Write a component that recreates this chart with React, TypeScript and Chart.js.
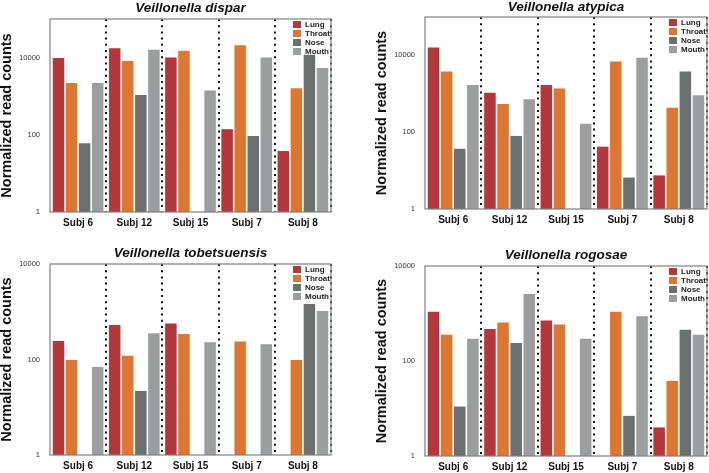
import React, { useEffect, useRef } from "react";
import { Chart, registerables } from "chart.js";

Chart.register(...registerables);

// ---------- data ----------
const categories = ["Subj 6", "Subj 12", "Subj 15", "Subj 7", "Subj 8"];
const seriesNames = ["Lung", "Throat", "Nose", "Mouth"];
const seriesColors = ["#B2383B", "#DC7630", "#6B706F", "#9B9D9E"];
const yTickValues = [1, 100, 10000];

const disparLung = [9800, 17500, 10000, 140, 38];
const disparThroat = [2200, 8200, 15000, 21000, 1600];
const disparNose = [60, 1070, null, 93, 11800];
const disparMouth = [2200, 16000, 1400, 10000, 5400];

const atypicaLung = [16000, 1070, 1700, 42, 7.5];
const atypicaThroat = [3800, 540, 1370, 6900, 430];
const atypicaNose = [37, 80, null, 6.6, 3800];
const atypicaMouth = [1700, 720, 165, 8700, 910];

const tobetsuensisLung = [245, 530, 570, null, null];
const tobetsuensisThroat = [98, 120, 340, 237, 98];
const tobetsuensisNose = [null, 22, null, null, 1450];
const tobetsuensisMouth = [70, 355, 230, 208, 1040];

const rogosaeLung = [1090, 470, 710, null, 4];
const rogosaeThroat = [355, 650, 590, 1090, 38];
const rogosaeNose = [11, 240, null, 7, 455];
const rogosaeMouth = [295, 2570, 295, 870, 357];

const yAxisTitle = "Normalized read counts";

// ---------- layout ----------
const W = 709;
const H = 473;
const FONT = '"Liberation Sans", Arial, Helvetica, sans-serif';

type PanelDef = {
  title: string;
  series: (number | null)[][];
  max: number;
  area: { l: number; t: number; r: number; b: number };
  titleY: number;
};

const panels: PanelDef[] = [
  {
    title: "Veillonella dispar",
    series: [disparLung, disparThroat, disparNose, disparMouth],
    max: 100000,
    area: { l: 50, t: 19, r: 331, b: 212 },
    titleY: 8,
  },
  {
    title: "Veillonella atypica",
    series: [atypicaLung, atypicaThroat, atypicaNose, atypicaMouth],
    max: 100000,
    area: { l: 425, t: 17, r: 707, b: 209 },
    titleY: 7,
  },
  {
    title: "Veillonella tobetsuensis",
    series: [tobetsuensisLung, tobetsuensisThroat, tobetsuensisNose, tobetsuensisMouth],
    max: 10000,
    area: { l: 50, t: 264, r: 331, b: 455 },
    titleY: 253,
  },
  {
    title: "Veillonella rogosae",
    series: [rogosaeLung, rogosaeThroat, rogosaeNose, rogosaeMouth],
    max: 10000,
    area: { l: 425, t: 266, r: 707, b: 456 },
    titleY: 255,
  },
];

const decorPlugin = {
  id: "decor",
  afterDraw(chart: any, _args: any, opts: any) {
    const { ctx, chartArea: a } = chart;
    ctx.save();
    // frame
    ctx.strokeStyle = "#7f7f7f";
    ctx.lineWidth = 1.2;
    ctx.strokeRect(a.left, a.top, a.right - a.left, a.bottom - a.top);
    // title
    ctx.fillStyle = "#111";
    ctx.textAlign = "center";
    ctx.textBaseline = "middle";
    ctx.font = `italic bold 13.5px ${FONT}`;
    ctx.fillText(opts.title, (a.left + a.right) / 2, opts.titleY);
    // legend
    const bx = a.right - 38;
    ctx.font = `bold 8px ${FONT}`;
    ctx.textAlign = "left";
    chart.data.datasets.forEach((ds: any, i: number) => {
      const cy = a.top + 5.5 + i * 9;
      ctx.fillStyle = ds.backgroundColor;
      ctx.fillRect(bx, cy - 3.5, 8, 7);
      ctx.fillStyle = "#222";
      ctx.fillText(ds.label, bx + 12, cy + 0.5);
    });
    ctx.restore();
  },
};

function Panel({ def }: { def: PanelDef }) {
  const ref = useRef<HTMLCanvasElement | null>(null);
  useEffect(() => {
    if (!ref.current) return;
    const { area } = def;
    const chart = new Chart(ref.current, {
      type: "bar",
      data: {
        labels: categories,
        datasets: def.series.map((vals, i) => ({
          label: seriesNames[i],
          data: vals,
          backgroundColor: seriesColors[i],
          borderWidth: 0,
          barPercentage: 0.88,
          categoryPercentage: 0.93,
        })),
      },
      options: {
        responsive: false,
        animation: false,
        events: [],
        layout: {
          padding: {
            left: area.l - 50,
            top: area.t,
            right: W - area.r,
            bottom: H - area.b - 22,
          },
        },
        plugins: {
          legend: { display: false },
          title: { display: false },
          tooltip: { enabled: false },
          decor: { title: def.title, titleY: def.titleY },
        } as any,
        scales: {
          x: {
            type: "category",
            offset: true,
            grid: {
              offset: true,
              drawOnChartArea: true,
              drawTicks: false,
              lineWidth: 2,
              color: (c: any) =>
                c.index === 0 || c.index >= categories.length ? "rgba(0,0,0,0)" : "#111",
            },
            border: { display: false, dash: [2, 4.2] },
            ticks: {
              font: { family: FONT, size: 10, weight: "bold" },
              color: "#111",
              padding: 5,
              maxRotation: 0,
            },
            afterFit: (s: any) => {
              s.height = 22;
            },
          },
          y: {
            type: "logarithmic",
            min: 1,
            max: def.max,
            grid: { display: false, drawTicks: false },
            border: { display: false },
            ticks: {
              autoSkip: false,
              font: { family: FONT, size: 7.5 },
              color: "#333",
              padding: 10,
              callback: (v: any) => String(v),
            },
            afterBuildTicks: (s: any) => {
              s.ticks = yTickValues.filter((v) => v <= def.max).map((v) => ({ value: v }));
            },
            title: {
              display: true,
              text: yAxisTitle,
              color: "#111",
              font: { family: FONT, size: 14.5, weight: "bold", lineHeight: 1 },
              padding: 0,
            },
            afterFit: (s: any) => {
              s.width = 50;
            },
          },
        },
      },
      plugins: [decorPlugin],
    } as any);
    return () => chart.destroy();
  }, [def]);
  return (
    <canvas
      ref={ref}
      width={W}
      height={H}
      style={{ position: "absolute", left: 0, top: 0, width: W, height: H }}
    />
  );
}

export default function App() {
  return (
    <div
      style={{
        position: "absolute",
        left: 0,
        top: 0,
        width: W,
        height: H,
        background: "#fff",
        overflow: "hidden",
      }}
    >
      {panels.map((p) => (
        <Panel key={p.title} def={p} />
      ))}
    </div>
  );
}
